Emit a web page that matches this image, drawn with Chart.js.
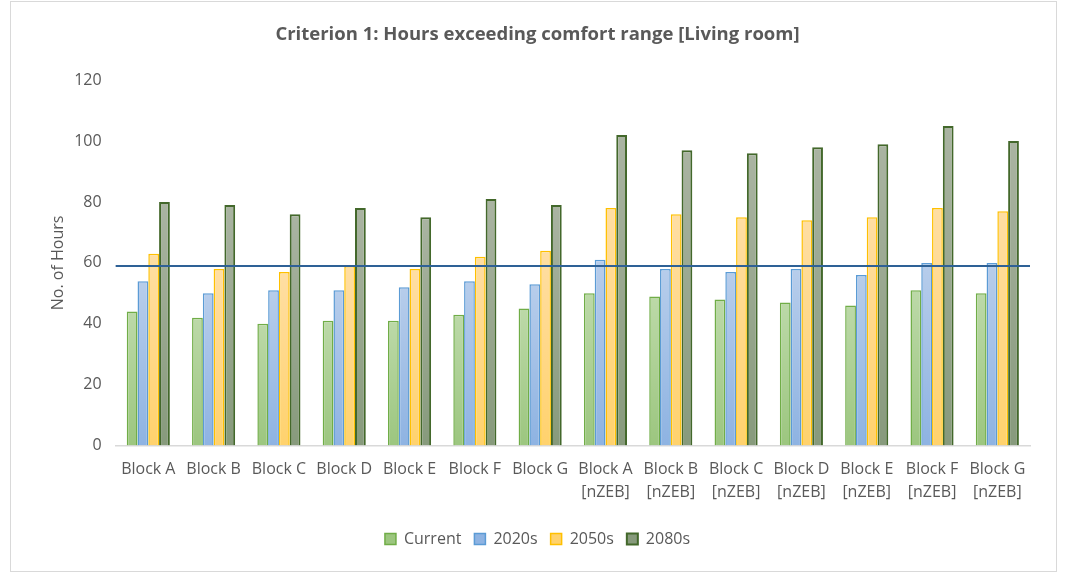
<!DOCTYPE html>
<html>
<head>
<meta charset="utf-8">
<script src="https://cdn.jsdelivr.net/npm/chart.js@4"></script>
<style>
html,body{margin:0;padding:0;background:#fff}
#box{position:absolute;left:10px;top:1px;width:1047px;height:571px;border:1px solid #d9d9d9;box-sizing:border-box}
canvas{display:block}
</style>
</head>
<body>
<div id="box"><canvas id="myChart" width="1045" height="569"></canvas></div>
<script>
// data
const categories = [
"Block A","Block B","Block C","Block D","Block E","Block F","Block G",
["Block A","[nZEB]"],["Block B","[nZEB]"],["Block C","[nZEB]"],["Block D","[nZEB]"],
["Block E","[nZEB]"],["Block F","[nZEB]"],["Block G","[nZEB]"]
]

const current = [44,42,40,41,41,43,45,50,49,48,47,46,51,50]
const s2020 = [54,50,51,51,52,54,53,61,58,57,58,56,60,60]
const s2050 = [63,58,57,59,58,62,64,78,76,75,74,75,78,77]
const s2080 = [80,79,76,78,75,81,79,102,97,96,98,99,105,100]

const threshold = 59

const yTicks = [0,20,40,60,80,100,120]

const FONT = "'Open Sans', sans-serif"

function grad(top,bottom){
return function(ctx){
const chart = ctx.chart
const y = chart.scales.y
if(!y || ctx.raw === undefined) return bottom
const y0 = y.getPixelForValue(0)
const y1 = y.getPixelForValue(ctx.raw)
if(!isFinite(y0) || !isFinite(y1) || y0 === y1) return bottom
const g = chart.ctx.createLinearGradient(0,y1,0,y0)
g.addColorStop(0,top)
g.addColorStop(1,bottom)
return g
}
}

const thresholdLine = {
id:"thresholdLine",
afterDatasetsDraw(chart){
const a = chart.chartArea
const y = chart.scales.y.getPixelForValue(threshold)
const c = chart.ctx
c.save()
c.strokeStyle = "#2e6196"
c.lineWidth = 2
c.beginPath()
c.moveTo(a.left,y)
c.lineTo(a.right,y)
c.stroke()
c.restore()
}
}

new Chart(
document.getElementById("myChart"),
{
type:"bar",
data:{
labels:categories,
datasets:[
{label:"Current",data:current,backgroundColor:grad("#bcd9a8","#9cc67f"),borderColor:"#70ad47",borderWidth:1.5},
{label:"2020s",data:s2020,backgroundColor:grad("#b7cdeb","#8eb3e2"),borderColor:"#5b9bd5",borderWidth:1.5},
{label:"2050s",data:s2050,backgroundColor:grad("#ffdea3","#ffd26d"),borderColor:"#ffc000",borderWidth:1.5},
{label:"2080s",data:s2080,backgroundColor:grad("#aab4a2","#879a7c"),borderColor:"#43682b",borderWidth:2}
]
},
plugins:[thresholdLine],
options:{
responsive:false,
animation:false,
layout:{padding:{left:34,right:26,top:4,bottom:14}},
datasets:{bar:{categoryPercentage:0.66,barPercentage:1.0}},
plugins:{
title:{
display:true,
text:"Criterion 1: Hours exceeding comfort range [Living room]",
color:"#595959",
font:{family:FONT,size:18.5,weight:"bold"},
padding:{top:18,bottom:34}
},
legend:{
position:"bottom",
labels:{
color:"#595959",
font:{family:FONT,size:16},
boxWidth:11,
boxHeight:11,
padding:13
}
},
tooltip:{enabled:false}
},
scales:{
x:{
grid:{display:false},
border:{color:"#d9d9d9",width:1.5},
ticks:{color:"#595959",font:{family:FONT,size:16,lineHeight:1.45},maxRotation:0,autoSkip:false,padding:4},
afterFit(scale){scale.height += 10}
},
y:{
min:0,
max:120,
afterBuildTicks(axis){axis.ticks = yTicks.map(v=>({value:v}))},
grid:{display:false},
border:{display:false},
ticks:{color:"#595959",font:{family:FONT,size:16},padding:6},
title:{display:true,text:"No. of Hours",color:"#595959",font:{family:FONT,size:16},padding:{bottom:0}}
}
}
}
})
</script>
</body>
</html>
